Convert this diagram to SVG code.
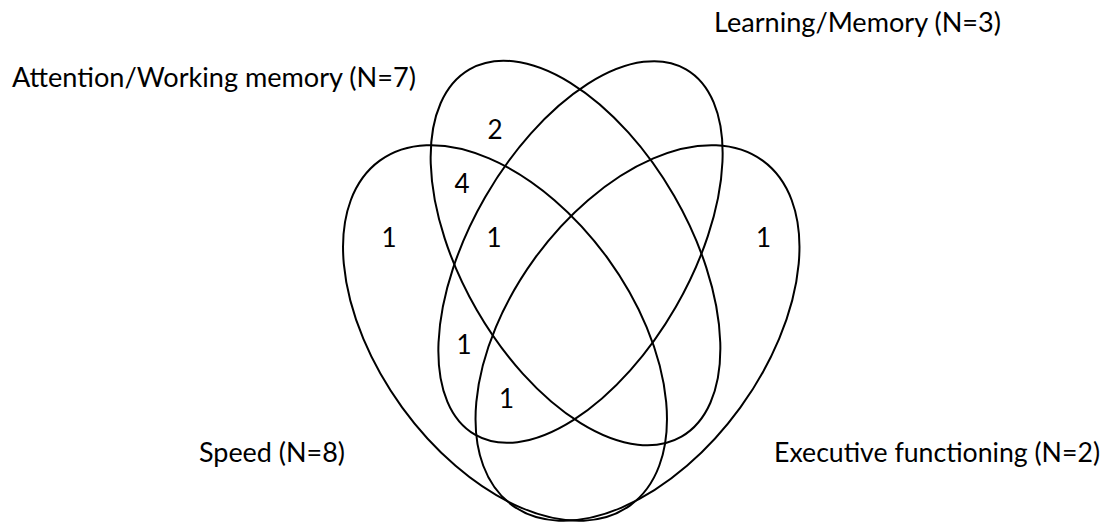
<svg xmlns="http://www.w3.org/2000/svg" width="1110" height="522" viewBox="0 0 1110 522">
<style>
.set{fill:none;stroke:#000;stroke-width:2}
.lbl{font-family:Lato,"Liberation Sans",sans-serif;font-size:26px;fill:#000}
.num{font-family:Lato,"Liberation Sans",sans-serif;font-size:26px;fill:#000;text-anchor:middle}
</style>
<rect width="1110" height="522" fill="#fff"/>
<g id="speed">
<ellipse class="set" cx="505" cy="333" rx="213" ry="127" transform="rotate(54 505 333)"/>
<text class="lbl" x="199" y="462" textLength="146" lengthAdjust="spacingAndGlyphs">Speed (N=8)</text>
</g>
<g id="attention">
<ellipse class="set" cx="575.5" cy="253" rx="212" ry="114" transform="rotate(60 575.5 253)"/>
<text class="lbl" x="12" y="87" textLength="404" lengthAdjust="spacingAndGlyphs">Attention/Working memory (N=7)</text>
</g>
<g id="learning">
<ellipse class="set" cx="580.5" cy="252" rx="211" ry="110" transform="rotate(-60 580.5 252)"/>
<text class="lbl" x="714" y="32" textLength="287" lengthAdjust="spacingAndGlyphs">Learning/Memory (N=3)</text>
</g>
<g id="executive">
<ellipse class="set" cx="637.5" cy="333" rx="213" ry="127" transform="rotate(-54 637.5 333)"/>
<text class="lbl" x="774" y="462" textLength="326" lengthAdjust="spacingAndGlyphs">Executive functioning (N=2)</text>
</g>
<g id="counts">
<text class="num" x="495" y="138.5">2</text>
<text class="num" x="462" y="193">4</text>
<text class="num" x="389" y="247">1</text>
<text class="num" x="494" y="247">1</text>
<text class="num" x="763.5" y="247">1</text>
<text class="num" x="464" y="354">1</text>
<text class="num" x="506.5" y="408">1</text>
</g>
</svg>
